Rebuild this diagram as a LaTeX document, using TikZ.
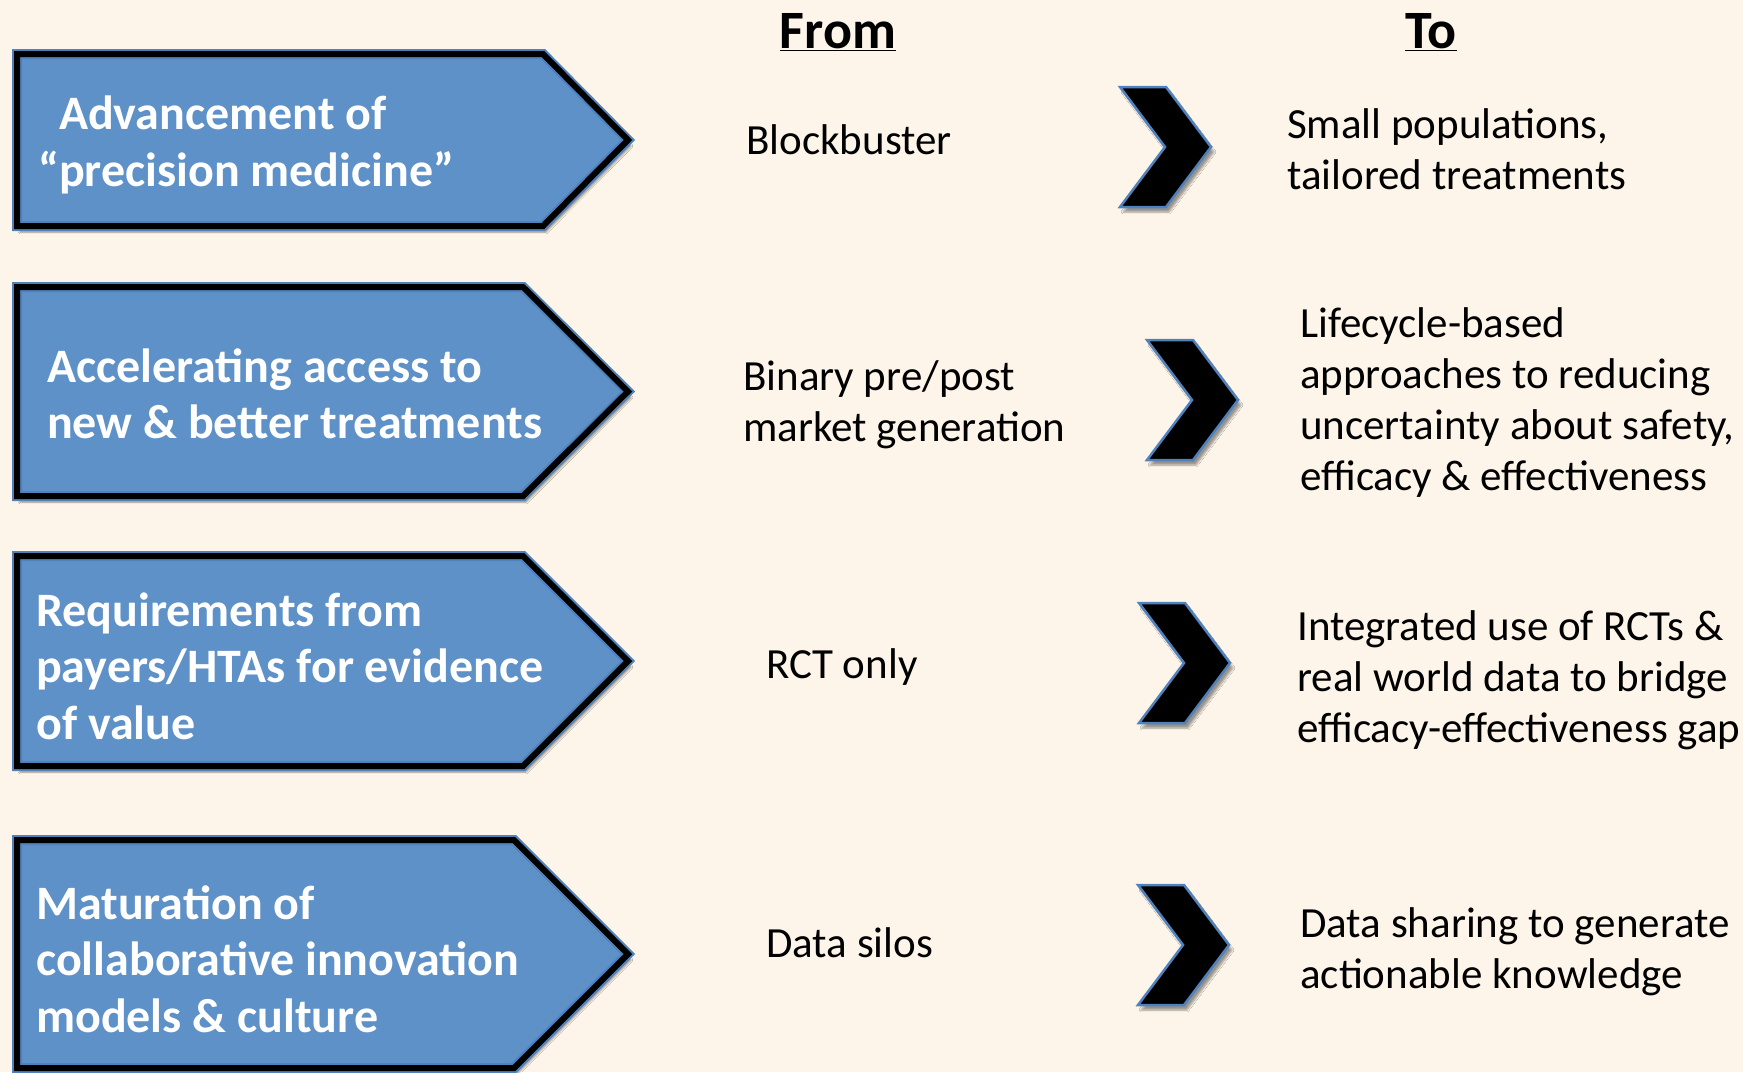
\documentclass[tikz,border=0pt]{standalone}
\usepackage{fontspec}
\setmainfont{Carlito}
\usepackage{tikz}
\usetikzlibrary{shadows.blur}

\definecolor{paper}{RGB}{253,245,233}
\definecolor{boxblue}{RGB}{93,145,199}
\definecolor{rimblue}{RGB}{79,129,189}

\begin{document}
\begin{tikzpicture}[x=1pt, y=-1pt,
    pentagon/.style={fill=boxblue, draw=rimblue, line width=10pt, line join=miter,
      blur shadow={shadow xshift=3pt, shadow yshift=-6pt, shadow blur steps=6, shadow opacity=45},
      postaction={draw=black, line width=6pt, line join=miter}},
    chevron/.style={fill=black, draw=rimblue, line width=2.5pt, line join=miter,
      blur shadow={shadow xshift=3pt, shadow yshift=-5pt, shadow blur steps=6, shadow opacity=40}},
    goal/.style={anchor=west, inner sep=0pt, align=left, text=white,
      font=\fontsize{48}{56.5}\selectfont\bfseries},
    plain/.style={anchor=west, inner sep=0pt, align=left,
      font=\fontsize{43}{51}\selectfont},
    header/.style={inner sep=0pt, font=\fontsize{54}{60}\selectfont\bfseries}]

  \path[use as bounding box, fill=paper] (0,0) rectangle (1743,1072);
  \clip (0,0) rectangle (1743,1072);

  \foreach \ya/\yb/\xs in {54/226/543, 287/496/523, 556/766/523, 840/1068/514}
    \draw[pentagon] (17,\ya) -- (\xs,\ya) -- (628,{(\ya+\yb)/2}) -- (\xs,\yb) -- (17,\yb) -- cycle;

  \foreach \xl/\ym in {1120/147, 1147/400, 1139/663, 1138/945}
    \draw[chevron] (\xl,\ym-60) -- (\xl+46,\ym-60) -- (\xl+91,\ym) -- (\xl+46,\ym+60)
      -- (\xl,\ym+60) -- (\xl+45,\ym) -- cycle;

  \node[header] (from) at (838,32) {\underline{From}};
  \node[header] (to) at (1431,32) {\underline{To}};

  \node[goal] (precision) at (38,145) {\hphantom{``}Advancement of\\``precision medicine''};
  \node[goal] (access) at (47,394) {Accelerating access to\\new \& better treatments};
  \node[goal] (payers) at (36,666) {Requirements from\\payers/HTAs for evidence\\of value};
  \node[goal] (culture) at (36,959) {Maturation of\\collaborative innovation\\models \& culture};

  \node[plain] (blockbuster) at (746,140) {Blockbuster};
  \node[plain] (binary) at (743,405) {Binary pre/post\\market generation};
  \node[plain] (rct) at (766,667) {RCT only};
  \node[plain] (silos) at (766,943) {Data silos};

  \node[plain] (tailored) at (1287,149) {Small populations,\\tailored treatments};
  \node[plain] (lifecycle) at (1300,403) {Lifecycle-based\\approaches to reducing\\uncertainty about safety,\\efficacy \& effectiveness};
  \node[plain] (integrated) at (1297,680) {Integrated use of RCTs \&\\real world data to bridge\\efficacy-effectiveness gap};
  \node[plain] (sharing) at (1300,952) {Data sharing to generate\\actionable knowledge};
\end{tikzpicture}
\end{document}
